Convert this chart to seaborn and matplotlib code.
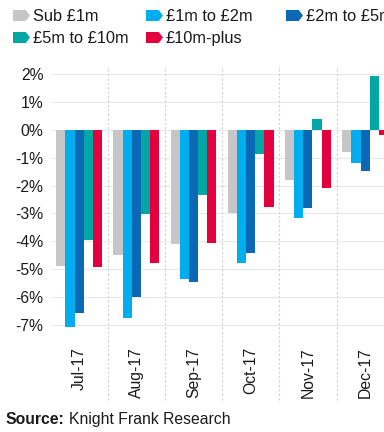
import matplotlib
matplotlib.use("Agg")
import matplotlib.pyplot as plt
import seaborn as sns
import pandas as pd
from matplotlib.lines import Line2D
from matplotlib.path import Path

months = ["Jul-17", "Aug-17", "Sep-17", "Oct-17", "Nov-17", "Dec-17"]
bands = ["Sub £1m", "£1m to £2m", "£2m to £5m", "£5m to £10m", "£10m-plus"]
sub_1m = [-4.9, -4.5, -4.1, -3.0, -1.8, -0.78]
m1_to_2 = [-7.07, -6.75, -5.35, -4.8, -3.15, -1.18]
m2_to_5 = [-6.57, -6.0, -5.46, -4.41, -2.8, -1.46]
m5_to_10 = [-3.96, -3.02, -2.34, -0.86, 0.4, 1.94]
m10_plus = [-4.94, -4.8, -4.08, -2.76, -2.1, -0.17]
y_ticks = [2, 1, 0, -1, -2, -3, -4, -5, -6, -7]
y_labels = ["2%", "1%", "0%", "-1%", "-2%", "-3%", "-4%", "-5%", "-6%", "-7%"]
source_bold = "Source:"
source_rest = "Knight Frank Research"

colors = ["#c6c6c6", "#00aeef", "#0a68b4", "#00a7a5", "#e4003c"]

series = [sub_1m, m1_to_2, m2_to_5, m5_to_10, m10_plus]
rows = []
for band, vals in zip(bands, series):
    for m, v in zip(months, vals):
        rows.append({"month": m, "band": band, "value": v})
df = pd.DataFrame(rows)

sns.set_style("white")
plt.rcParams["font.family"] = ["Liberation Sans", "DejaVu Sans"]
FS = 11.3
LFS = 11.8
TXT = "#1a1a1a"

fig = plt.figure(figsize=(3.84, 4.32), dpi=100)
W, H = 384, 432
ax_left, ax_right, ax_top, ax_bot = 50.5, 384, 66, 333
ax = fig.add_axes([ax_left / W, (H - ax_bot) / H, (ax_right - ax_left) / W, (ax_bot - ax_top) / H])

sns.barplot(data=df, x="month", y="value", hue="band", hue_order=bands, order=months,
            palette=colors, saturation=1, width=0.8, gap=0, linewidth=0, legend=False, ax=ax,
            errorbar=None)

ax.set_xlim(-0.5, -0.5 + (ax_right - ax_left) / 57.2)
ax.set_ylim(-7.30, 2.30)
for s in ax.spines.values():
    s.set_visible(False)
ax.set_yticks(y_ticks)
ax.set_yticklabels(y_labels)
ax.set_xlabel("")
ax.set_ylabel("")
ax.tick_params(axis="y", length=0, pad=5, labelsize=FS, labelcolor=TXT)
ax.tick_params(axis="x", length=0, pad=10, labelsize=FS, labelcolor=TXT)
for lab in ax.get_xticklabels():
    lab.set_rotation(90)
    lab.set_va("top")
    lab.set_ha("center")

ax.grid(False)
for yt in y_ticks:
    ax.axhline(yt, color="#e8e8e8", lw=0.8, zorder=0)
ymin_frac = -(400 - ax_bot) / (ax_bot - ax_top)
for i in range(1, len(months)):
    ax.axvline(i - 0.5, ymin=ymin_frac, ymax=1, color="#cfcfcf", lw=0.8,
               linestyle=(0, (2, 2)), clip_on=False, zorder=0)

# legend markers (arrow-shaped)
arrow = Path([(-1, -0.65), (0.5, -0.65), (1, 0), (0.5, 0.65), (-1, 0.65), (-1, -0.65)],
             [Path.MOVETO, Path.LINETO, Path.LINETO, Path.LINETO, Path.LINETO, Path.CLOSEPOLY])
ms = 17 * 72 / 100
handles = [Line2D([], [], linestyle="none", marker=arrow, markersize=ms,
                  markerfacecolor=c, markeredgewidth=0) for c in colors]
cols = [([0, 3], 12), ([1, 4], 145), ([2], 285)]
for idx, xpix in cols:
    leg = fig.legend([handles[i] for i in idx], [bands[i] for i in idx],
                     loc="upper left", bbox_to_anchor=(xpix / W, 1 - 9 / H),
                     frameon=False, fontsize=LFS, borderpad=0, borderaxespad=0,
                     handlelength=17 / (LFS * 100 / 72), handletextpad=0.22,
                     labelspacing=0.42)
    for t in leg.get_texts():
        t.set_color(TXT)

t1 = fig.text(6 / W, 1 - 424 / H, source_bold, fontsize=FS, fontweight="bold",
              color=TXT, va="baseline", ha="left")
fig.canvas.draw()
bb = t1.get_window_extent()
fig.text((bb.x1 + 4) / W, 1 - 424 / H, source_rest, fontsize=FS, color=TXT,
         va="baseline", ha="left")

fig.savefig("out.png", dpi=100)
